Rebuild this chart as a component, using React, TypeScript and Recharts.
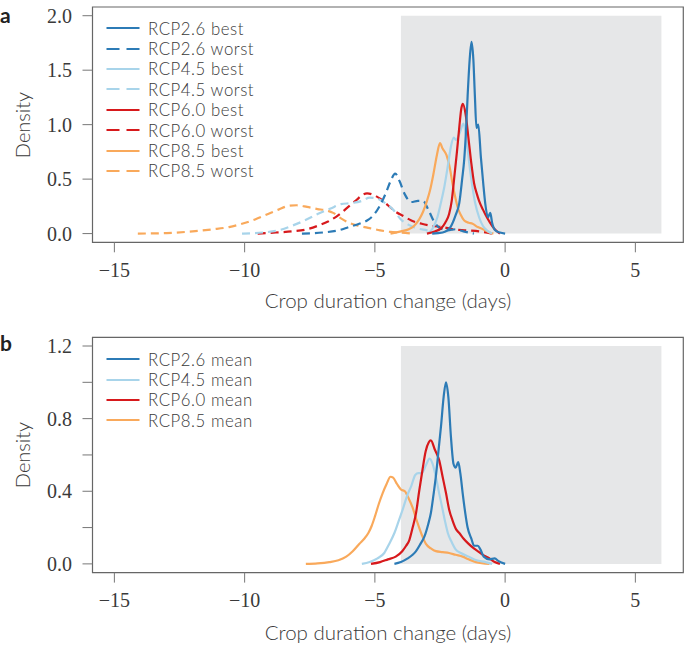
import React from 'react';
import { LineChart, Line, XAxis, YAxis, ReferenceArea } from 'recharts';

type Pt = [number, number];

// ---------- Data ----------
const xTicks = [-15, -10, -5, 0, 5];
const yTicksA = [0, 0.5, 1, 1.5, 2];
const yTicksB = [0, 0.2, 0.4, 0.6, 0.8, 1.0, 1.2];
const yLabelsB = [0, 0.4, 0.8, 1.2];

const rcp26Best: Pt[] = [[-2.8,0],[-2.4,0.01],[-2.1,0.06],[-1.9,0.17],[-1.76,0.28],[-1.65,0.5],[-1.57,0.68],[-1.5,0.95],[-1.44,1.26],[-1.36,1.6],[-1.29,1.76],[-1.22,1.6],[-1.16,1.26],[-1.1,0.97],[-1.03,1.0],[-0.93,0.7],[-0.84,0.46],[-0.76,0.27],[-0.66,0.15],[-0.57,0.19],[-0.5,0.1],[-0.38,0.03],[-0.2,0.01],[0,0]];
const rcp26Worst: Pt[] = [[-7.8,0],[-7,0.01],[-6.4,0.03],[-6.0,0.06],[-5.6,0.09],[-5.3,0.12],[-5.05,0.17],[-4.8,0.26],[-4.6,0.36],[-4.4,0.48],[-4.22,0.55],[-4.05,0.48],[-3.85,0.36],[-3.6,0.29],[-3.35,0.3],[-3.15,0.3],[-2.95,0.22],[-2.75,0.12],[-2.5,0.05],[-2.2,0.03],[-1.9,0.04],[-1.6,0.02],[-1.2,0]];
const rcp45Best: Pt[] = [[-3.0,0],[-2.8,0.04],[-2.6,0.15],[-2.45,0.3],[-2.34,0.42],[-2.2,0.62],[-2.08,0.8],[-1.97,0.88],[-1.88,0.86],[-1.75,0.92],[-1.6,1.01],[-1.5,0.9],[-1.38,0.65],[-1.25,0.42],[-1.15,0.28],[-1.0,0.15],[-0.85,0.07],[-0.7,0.03],[-0.5,0]];
const rcp45Worst: Pt[] = [[-10.1,0],[-9.3,0.01],[-8.7,0.03],[-8.2,0.07],[-7.7,0.12],[-7.2,0.18],[-6.7,0.23],[-6.3,0.27],[-5.9,0.28],[-5.5,0.3],[-5.2,0.33],[-4.9,0.32],[-4.6,0.28],[-4.3,0.22],[-4.0,0.13],[-3.7,0.08],[-3.4,0.05],[-3.0,0.03],[-2.6,0.01],[-2.3,0]];
const rcp60Best: Pt[] = [[-3.0,0],[-2.7,0.02],[-2.45,0.05],[-2.3,0.1],[-2.15,0.18],[-2.05,0.3],[-1.95,0.52],[-1.85,0.75],[-1.75,1.0],[-1.68,1.15],[-1.62,1.19],[-1.52,1.1],[-1.4,0.86],[-1.3,0.65],[-1.19,0.46],[-1.08,0.36],[-1.0,0.3],[-0.85,0.22],[-0.68,0.14],[-0.5,0.07],[-0.36,0.03],[-0.2,0]];
const rcp60Worst: Pt[] = [[-9.5,0],[-8.8,0.01],[-8.2,0.02],[-7.6,0.04],[-7.1,0.08],[-6.8,0.11],[-6.4,0.17],[-6.0,0.25],[-5.7,0.31],[-5.45,0.36],[-5.3,0.37],[-5.1,0.36],[-4.8,0.32],[-4.5,0.26],[-4.2,0.2],[-3.9,0.16],[-3.6,0.12],[-3.2,0.09],[-2.8,0.07],[-2.4,0.06],[-2.0,0.04],[-1.5,0.03],[-1.0,0.02],[-0.5,0]];
const rcp85Best: Pt[] = [[-4.4,0],[-4.0,0.02],[-3.7,0.04],[-3.5,0.07],[-3.3,0.13],[-3.15,0.2],[-3.0,0.3],[-2.88,0.4],[-2.75,0.55],[-2.62,0.72],[-2.5,0.83],[-2.4,0.78],[-2.25,0.72],[-2.12,0.6],[-2.02,0.46],[-1.92,0.34],[-1.82,0.24],[-1.7,0.17],[-1.57,0.12],[-1.4,0.1],[-1.25,0.09],[-1.05,0.06],[-0.85,0.04],[-0.6,0.01],[-0.45,0]];
const rcp85Worst: Pt[] = [[-14.1,0],[-13,0.005],[-12,0.02],[-11.2,0.04],[-10.6,0.06],[-10.1,0.09],[-9.6,0.13],[-9.1,0.18],[-8.7,0.22],[-8.3,0.255],[-8.0,0.26],[-7.6,0.245],[-7.2,0.225],[-6.9,0.215],[-6.6,0.19],[-6.3,0.14],[-6.0,0.1],[-5.6,0.07],[-5.2,0.05],[-4.8,0.03],[-4.4,0.015],[-4.0,0.01],[-3.6,0]];

const rcp26Mean: Pt[] = [[-4.25,0],[-4.0,0.01],[-3.74,0.03],[-3.55,0.05],[-3.42,0.07],[-3.25,0.11],[-3.1,0.15],[-2.95,0.22],[-2.85,0.28],[-2.75,0.38],[-2.66,0.48],[-2.56,0.62],[-2.46,0.76],[-2.36,0.92],[-2.27,1.0],[-2.18,0.92],[-2.08,0.7],[-1.98,0.55],[-1.9,0.53],[-1.8,0.56],[-1.72,0.5],[-1.63,0.39],[-1.53,0.28],[-1.44,0.2],[-1.3,0.14],[-1.19,0.1],[-1.05,0.1],[-0.95,0.08],[-0.82,0.04],[-0.6,0.025],[-0.4,0.03],[-0.25,0.015],[0,0]];
const rcp45Mean: Pt[] = [[-5.5,0],[-5.2,0.01],[-4.9,0.03],[-4.64,0.06],[-4.45,0.11],[-4.25,0.17],[-4.1,0.23],[-3.93,0.3],[-3.75,0.38],[-3.6,0.43],[-3.45,0.49],[-3.33,0.5],[-3.2,0.5],[-3.05,0.54],[-2.9,0.58],[-2.78,0.55],[-2.66,0.48],[-2.52,0.38],[-2.4,0.3],[-2.3,0.23],[-2.2,0.17],[-2.05,0.12],[-1.9,0.08],[-1.7,0.06],[-1.4,0.04],[-1.1,0.02],[-0.75,0.01],[-0.5,0]];
const rcp60Mean: Pt[] = [[-5.15,0],[-4.8,0.01],[-4.5,0.025],[-4.2,0.04],[-3.95,0.07],[-3.8,0.1],[-3.68,0.13],[-3.55,0.2],[-3.42,0.28],[-3.3,0.4],[-3.17,0.52],[-3.05,0.62],[-2.93,0.67],[-2.85,0.68],[-2.7,0.63],[-2.53,0.57],[-2.4,0.48],[-2.27,0.39],[-2.15,0.3],[-2.02,0.24],[-1.88,0.19],[-1.76,0.17],[-1.6,0.14],[-1.4,0.11],[-1.2,0.085],[-1.0,0.065],[-0.8,0.045],[-0.6,0.03],[-0.4,0.01],[-0.2,0]];
const rcp85Mean: Pt[] = [[-7.65,0],[-7.2,0.003],[-6.75,0.01],[-6.4,0.02],[-6.1,0.04],[-5.85,0.07],[-5.6,0.11],[-5.4,0.14],[-5.25,0.17],[-5.12,0.21],[-5.0,0.26],[-4.85,0.33],[-4.7,0.39],[-4.55,0.44],[-4.4,0.48],[-4.3,0.475],[-4.15,0.44],[-4.0,0.41],[-3.85,0.4],[-3.7,0.36],[-3.55,0.31],[-3.42,0.25],[-3.3,0.2],[-3.17,0.15],[-3.04,0.11],[-2.85,0.085],[-2.66,0.07],[-2.4,0.065],[-2.15,0.06],[-1.9,0.05],[-1.63,0.04],[-1.4,0.025],[-1.12,0.01],[-0.6,0]];

// ---------- Styles ----------
const C26 = '#2c7bb6';
const C45 = '#a8d4ea';
const C60 = '#d7191c';
const C85 = '#f9a95b';
const DASH = '8 5';
const LEGEND_DASH = '13 7';
const TEXT = '#3a3a3a';
const AXIS = '#777';
const FONT = 'Lato, "DejaVu Sans", sans-serif';
const FS = 20;
const FW = 300;

type Series = { name: string; data: Pt[]; color: string; dashed: boolean };

const seriesA: Series[] = [
  { name: 'RCP2.6 best', data: rcp26Best, color: C26, dashed: false },
  { name: 'RCP2.6 worst', data: rcp26Worst, color: C26, dashed: true },
  { name: 'RCP4.5 best', data: rcp45Best, color: C45, dashed: false },
  { name: 'RCP4.5 worst', data: rcp45Worst, color: C45, dashed: true },
  { name: 'RCP6.0 best', data: rcp60Best, color: C60, dashed: false },
  { name: 'RCP6.0 worst', data: rcp60Worst, color: C60, dashed: true },
  { name: 'RCP8.5 best', data: rcp85Best, color: C85, dashed: false },
  { name: 'RCP8.5 worst', data: rcp85Worst, color: C85, dashed: true },
];
const drawOrderA = [7, 5, 3, 1, 6, 2, 4, 0];

const seriesB: Series[] = [
  { name: 'RCP2.6 mean', data: rcp26Mean, color: C26, dashed: false },
  { name: 'RCP4.5 mean', data: rcp45Mean, color: C45, dashed: false },
  { name: 'RCP6.0 mean', data: rcp60Mean, color: C60, dashed: false },
  { name: 'RCP8.5 mean', data: rcp85Mean, color: C85, dashed: false },
];
const drawOrderB = [3, 1, 2, 0];

const X_DOMAIN: [number, number] = [-15.84, 6.84];
const toRows = (pts: Pt[]) => pts.map(([x, y]) => ({ x, y }));
const fmtX = (v: number) => (v < 0 ? '\u2212' + Math.abs(v) : String(v));

function Legend({ items, top }: { items: Series[]; top: number }) {
  return (
    <div style={{ position: 'absolute', left: 106, top, fontFamily: FONT }}>
      {items.map((s) => (
        <div key={s.name} style={{ display: 'flex', alignItems: 'center', height: 20.4 }}>
          <svg width={34} height={10} style={{ display: 'block' }}>
            <line x1={0.5} y1={5} x2={33.5} y2={5} stroke={s.color} strokeWidth={2.2}
              strokeDasharray={s.dashed ? LEGEND_DASH : undefined} />
          </svg>
          <span style={{ marginLeft: 8, fontSize: 16.8, letterSpacing: 0.55, fontWeight: FW, color: TEXT, lineHeight: '17px', whiteSpace: 'nowrap' }}>{s.name}</span>
        </div>
      ))}
    </div>
  );
}

function Panel({ series, order, yDomain, yTicks, yFmt, yMax, height, marginTop }: {
  series: Series[]; order: number[]; yDomain: [number, number]; yTicks: number[];
  yFmt: (v: number) => string; yMax: number; height: number; marginTop: number;
}) {
  const tickStyle = { fill: TEXT, fontSize: FS, fontWeight: FW };
  return (
    <LineChart width={685} height={height} margin={{ top: marginTop, right: 1.7, bottom: 0, left: 0 }}>
      <ReferenceArea x1={-4} x2={6} y1={0} y2={yMax} fill="#e6e7e8" fillOpacity={1} stroke="none" ifOverflow="visible" />
      <ReferenceArea x1={X_DOMAIN[0]} x2={X_DOMAIN[1]} y1={yDomain[0]} y2={yDomain[1]} fill="none" stroke="#666" strokeWidth={1.2} fillOpacity={0} ifOverflow="visible" />
      <XAxis type="number" dataKey="x" domain={X_DOMAIN} ticks={xTicks} allowDataOverflow
        height={height - marginTop - 235.3} axisLine={false} tickLine={{ stroke: AXIS }} tickSize={10} tickMargin={10}
        tick={tickStyle} tickFormatter={fmtX} interval={0} />
      <YAxis type="number" domain={yDomain} ticks={yTicks} allowDataOverflow width={92.5}
        axisLine={false} tickLine={{ stroke: AXIS }} tickSize={10} tickMargin={10.5}
        tick={tickStyle} tickFormatter={yFmt} interval={0} />
      {order.map((i) => {
        const s = series[i];
        return (
          <Line key={s.name} name={s.name} data={toRows(s.data)} dataKey="y" type="monotone"
            stroke={s.color} strokeWidth={2.2} strokeDasharray={s.dashed ? DASH : undefined}
            dot={false} activeDot={false} isAnimationActive={false} />
        );
      })}
    </LineChart>
  );
}

const abs = (left: number, top: number, extra: React.CSSProperties = {}): React.CSSProperties => ({
  position: 'absolute', left, top, fontFamily: FONT, color: TEXT, whiteSpace: 'nowrap', fontWeight: FW, ...extra,
});

export default function App() {
  return (
    <div style={{ position: 'absolute', left: 0, top: 0, width: 685, height: 645, background: '#fff', overflow: 'hidden' }}>
      <div style={{ position: 'absolute', left: 0, top: 0 }}>
        <Panel series={seriesA} order={drawOrderA} yDomain={[-0.08, 2.08]} yTicks={yTicksA}
          yFmt={(v) => v.toFixed(1)} yMax={2} height={320} marginTop={7} />
      </div>
      <div style={{ position: 'absolute', left: 0, top: 330 }}>
        <Panel series={seriesB} order={drawOrderB} yDomain={[-0.048, 1.248]} yTicks={yTicksB}
          yFmt={(v) => (yLabelsB.some((t) => Math.abs(t - v) < 1e-6) ? v.toFixed(1) : '')} yMax={1.2} height={315} marginTop={7.3} />
      </div>

      <Legend items={seriesA} top={18} />
      <Legend items={seriesB} top={349} />

      <div style={abs(0, 2, { fontWeight: 'bold', fontSize: 21, color: '#222' })}>a</div>
      <div style={abs(0, 330, { fontWeight: 'bold', fontSize: 21, color: '#222' })}>b</div>

      <div style={abs(21.7, 124.6, { fontSize: FS, transform: 'translate(-50%, -50%) rotate(-90deg)' })}>Density</div>
      <div style={abs(21.7, 455, { fontSize: FS, transform: 'translate(-50%, -50%) rotate(-90deg)' })}>Density</div>

      <div style={abs(388, 300, { fontSize: FS + 0.5, transform: 'translate(-50%, -50%)' })}>Crop duration change (days)</div>
      <div style={abs(388, 631.5, { fontSize: FS + 0.5, transform: 'translate(-50%, -50%)' })}>Crop duration change (days)</div>
    </div>
  );
}
